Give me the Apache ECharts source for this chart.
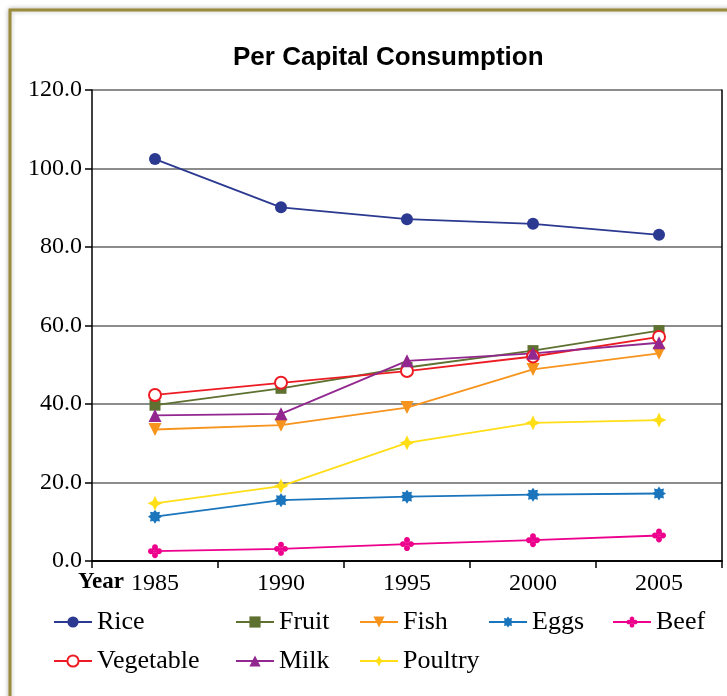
<!DOCTYPE html>
<html>
<head>
<meta charset="utf-8">
<script src="https://cdn.jsdelivr.net/npm/echarts@6/dist/echarts.min.js"></script>
<style>
  html, body { margin: 0; padding: 0; background: #ffffff; }
  #chart { width: 727px; height: 696px; }
</style>
</head>
<body>
<div id="chart"></div>
<script>
// Survey years and per-capita consumption by food group
const years = ['1985', '1990', '1995', '2000', '2005'];
const rice      = [102.4, 90.1, 87.1, 85.9, 83.1];
const fruit     = [39.7, 44.0, 49.3, 53.6, 58.7];
const fish      = [33.5, 34.6, 39.1, 48.8, 52.9];
const eggs      = [11.3, 15.5, 16.4, 16.9, 17.2];
const beef      = [2.5, 3.1, 4.3, 5.3, 6.5];
const vegetable = [42.3, 45.4, 48.4, 52.1, 57.1];
const milk      = [37.1, 37.5, 51.0, 52.9, 55.6];
const poultry   = [14.7, 19.1, 30.1, 35.2, 35.9];

const yTicks = { min: 0, max: 120, step: 20 };

// Marker shapes
const starEight = 'path://M0,-10 L2.6,-6.2 L7.1,-7.1 L6.2,-2.6 L10,0 L6.2,2.6 L7.1,7.1 L2.6,6.2 L0,10 L-2.6,6.2 L-7.1,7.1 L-6.2,2.6 L-10,0 L-6.2,-2.6 L-7.1,-7.1 L-2.6,-6.2 Z';
const starFour = 'path://M0,-10 L3.2,-3.2 L10,0 L3.2,3.2 L0,10 L-3.2,3.2 L-10,0 L-3.2,-3.2 Z';
function dot(cx, cy, r) {
  const k = 0.5523 * r;
  return 'M' + (cx + r) + ',' + cy +
    ' C' + (cx + r) + ',' + (cy + k) + ' ' + (cx + k) + ',' + (cy + r) + ' ' + cx + ',' + (cy + r) +
    ' C' + (cx - k) + ',' + (cy + r) + ' ' + (cx - r) + ',' + (cy + k) + ' ' + (cx - r) + ',' + cy +
    ' C' + (cx - r) + ',' + (cy - k) + ' ' + (cx - k) + ',' + (cy - r) + ' ' + cx + ',' + (cy - r) +
    ' C' + (cx + k) + ',' + (cy - r) + ' ' + (cx + r) + ',' + (cy - k) + ' ' + (cx + r) + ',' + cy + ' Z ';
}
const clover = 'path://' + dot(0, -5.8, 4.2) + dot(5.8, 0, 4.2) + dot(0, 5.8, 4.2) + dot(-5.8, 0, 4.2) +
  'M-1,-6 L1,-6 L1,6 L-1,6 Z M-6,-1 L6,-1 L6,1 L-6,1 Z';
const downTri = 'path://M-10,-8 L10,-8 L0,9 Z';

const serif = '"Liberation Serif", "Times New Roman", serif';

function line(name, data, color, symbol, size, extra) {
  return Object.assign({
    name: name,
    type: 'line',
    data: data,
    symbol: symbol,
    symbolSize: size,
    lineStyle: { color: color, width: 1.8 },
    itemStyle: { color: color },
    emphasis: { disabled: true },
    animation: false
  }, extra || {});
}

const series = [
  line('Rice', rice, '#2b3990', 'circle', 12),
  line('Fruit', fruit, '#5e7130', 'rect', 11),
  line('Fish', fish, '#f7941d', downTri, 13),
  line('Eggs', eggs, '#1b75bc', starEight, 14),
  line('Beef', beef, '#ec008c', clover, 14),
  line('Vegetable', vegetable, '#ed1c24', 'emptyCircle', 12,
       { itemStyle: { color: '#ed1c24', borderWidth: 1.2 } }),
  line('Milk', milk, '#92278f', 'triangle', 13),
  line('Poultry', poultry, '#ffde17', starFour, 15)
];

function legendCol(names, left) {
  return {
    data: names,
    orient: 'vertical',
    left: left,
    top: 609,
    padding: 0,
    itemGap: 13,
    itemWidth: 38,
    itemHeight: 14,
    itemSymbolSize: 11,
    textStyle: { fontFamily: serif, fontSize: 26, color: '#000' }
  };
}

const chart = echarts.init(document.getElementById('chart'));
chart.setOption({
  backgroundColor: '#ffffff',
  animation: false,
  title: {
    text: 'Per Capital Consumption',
    left: 233,
    top: 45,
    padding: 0,
    textStyle: {
      fontFamily: '"Liberation Sans", Arial, sans-serif',
      fontWeight: 'bold',
      fontSize: 26,
      color: '#000'
    }
  },
  legend: [
    legendCol(['Rice', 'Vegetable'], 53),
    legendCol(['Fruit', 'Milk'], 235),
    legendCol(['Fish', 'Poultry'], 359),
    legendCol(['Eggs'], 488),
    legendCol(['Beef'], 612)
  ],
  grid: { left: 92, right: 5, top: 90, bottom: 135 },
  xAxis: [
    {
      type: 'category',
      data: years,
      boundaryGap: true,
      axisLine: { lineStyle: { color: '#000', width: 1.5 } },
      axisTick: { show: true, length: 7, lineStyle: { color: '#000', width: 1.5 } },
      axisLabel: { margin: 11, fontFamily: serif, fontSize: 24, color: '#000' },
      splitLine: { show: false }
    },
    {
      type: 'category',
      data: years,
      position: 'top',
      axisLine: { lineStyle: { color: '#000', width: 1.5 } },
      axisTick: { show: false },
      axisLabel: { show: false },
      splitLine: { show: false }
    }
  ],
  yAxis: [
    {
      type: 'value',
      min: yTicks.min,
      max: yTicks.max,
      interval: yTicks.step,
      axisLine: { show: true, lineStyle: { color: '#000', width: 1.5 } },
      axisTick: { show: true, length: 7, lineStyle: { color: '#000', width: 1.5 } },
      axisLabel: {
        margin: 10,
        fontFamily: serif,
        fontSize: 24,
        color: '#000',
        formatter: function (v) { return v.toFixed(1); }
      },
      splitLine: { show: true, lineStyle: { color: '#8c8c8c', width: 2 } }
    },
    {
      type: 'value',
      position: 'right',
      min: yTicks.min,
      max: yTicks.max,
      interval: yTicks.step,
      axisLine: { show: true, lineStyle: { color: '#000', width: 1.5 } },
      axisTick: { show: false },
      axisLabel: { show: false },
      splitLine: { show: false }
    }
  ],
  graphic: [
    {
      type: 'rect',
      z: -10,
      silent: true,
      shape: { x: 10, y: 10, width: 760, height: 760 },
      style: {
        fill: '#ffffff',
        stroke: '#9a8b3a',
        lineWidth: 3,
        shadowBlur: 5,
        shadowColor: 'rgba(0,0,0,0.25)'
      }
    },
    {
      type: 'text',
      left: 78,
      top: 571,
      silent: true,
      style: {
        text: 'Year',
        font: 'bold 23px "Liberation Serif", "Times New Roman", serif',
        fill: '#000'
      }
    }
  ],
  series: series
});
</script>
</body>
</html>
